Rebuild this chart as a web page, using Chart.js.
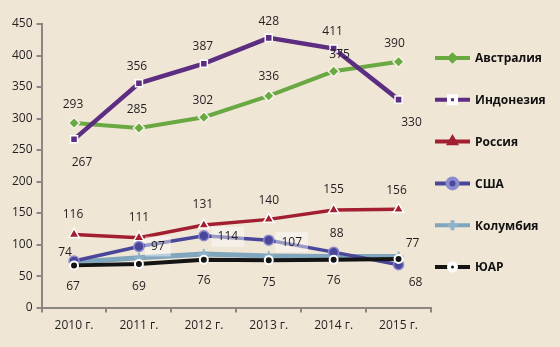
<!DOCTYPE html>
<html>
<head>
<meta charset="utf-8">
<script src="https://cdn.jsdelivr.net/npm/chart.js@4/dist/chart.umd.min.js"></script>
<style>
  body { margin: 0; background: #efe6d6; }
  #myChart { display: block; }
</style>
</head>
<body>
<canvas id="myChart" width="560" height="347"></canvas>
<script>
const years = ["2010 г.", "2011 г.", "2012 г.", "2013 г.", "2014 г.", "2015 г."];
const australia = [293, 285, 302, 336, 375, 390];
const indonesia = [267, 356, 387, 428, 411, 330];
const russia = [116, 111, 131, 140, 155, 156];
const usa = [74, 97, 114, 107, 88, 68];
const colombia = [72, 79, 85, 82, 81, 81];
const southAfrica = [67, 69, 76, 75, 76, 77];
const yMin = 0;
const yMax = 450;
const yStep = 50;

const chart = document.querySelector("#myChart");
const textColor = "#231f20";
const axisColor = "#8c8782";

// label offsets from each point, [dx, dy]
const labelOffsets = {
  "Австралия": [[-1, -18], [-2, -18], [-1, -17], [0, -19], [6, -17], [-4, -18]],
  "Индонезия": [[8, 23], [-2, -17], [-1, -17], [0, -16], [-1, -17], [13, 23]],
  "Россия": [[-1, -20], [0, -20], [-1, -20], [0, -19], [0, -20], [-2, -19]],
  "США": [[-9, -8], [19, 0], [24, 1], [23, 2], [3, -19], [17, 18]],
  "ЮАР": [[-1, 21], [0, 22], [0, 21], [0, 22], [0, 21], [14, -15]],
};
const boxedLabels = { "США": [1, 2, 3] };

const dataLabels = {
  id: "dataLabels",
  afterDatasetsDraw(c) {
    const ctx = c.ctx;
    ctx.save();
    ctx.font = "12px 'Open Sans'";
    ctx.textAlign = "center";
    ctx.textBaseline = "middle";
    c.data.datasets.forEach((ds, i) => {
      const offsets = labelOffsets[ds.label];
      if (!offsets) return;
      const boxed = boxedLabels[ds.label] || [];
      c.getDatasetMeta(i).data.forEach((pt, j) => {
        const x = pt.x + offsets[j][0];
        const y = pt.y + offsets[j][1];
        const text = String(ds.data[j]);
        if (boxed.includes(j)) {
          const w = ctx.measureText(text).width + 12;
          ctx.fillStyle = "rgba(255,255,255,0.45)";
          ctx.fillRect(x - w / 2, y - 10, w, 20);
        }
        ctx.fillStyle = textColor;
        ctx.fillText(text, x, y);
      });
    });
    ctx.restore();
  },
};

const sideLegend = {
  id: "sideLegend",
  afterDraw(c) {
    const ctx = c.ctx;
    const x0 = 435;
    const x1 = 470;
    ctx.save();
    ctx.font = "bold 12px 'Open Sans'";
    ctx.textBaseline = "middle";
    c.data.datasets.forEach((ds, i) => {
      const y = 58 + i * 41.8;
      ctx.strokeStyle = ds.borderColor;
      ctx.lineWidth = 4;
      ctx.beginPath();
      ctx.moveTo(x0, y);
      ctx.lineTo(x1, y);
      ctx.stroke();
      ctx.fillStyle = ds.legendMarkerFill || ds.pointBackgroundColor;
      ctx.strokeStyle = ds.legendMarkerBorder || ds.pointBorderColor;
      Chart.helpers.drawPoint(ctx, {
        pointStyle: ds.pointStyle,
        radius: ds.legendMarkerRadius || 5,
        borderWidth: 1.5,
        rotation: 0,
      }, (x0 + x1) / 2, y);
      ctx.fillStyle = "#111";
      ctx.fillText(ds.label, 475, y + 1);
    });
    ctx.restore();
  },
};

const datasets = [
  {
    label: "Австралия", data: australia, order: 6,
    borderColor: "#6aa942", borderWidth: 4,
    pointStyle: "rectRot", pointRadius: 5.5, pointBorderWidth: 1.5,
    pointBackgroundColor: "#6aa942", pointBorderColor: "#f6f3e8",
    legendMarkerFill: "#ffffff", legendMarkerBorder: "#6aa942", legendMarkerRadius: 3,
  },
  {
    label: "Индонезия", data: indonesia, order: 5,
    borderColor: "#5c2d81", borderWidth: 4.5,
    pointStyle: "rect", pointRadius: 5, pointBorderWidth: 1.5,
    pointBackgroundColor: "#5c2d81", pointBorderColor: "#ffffff",
  },
  {
    label: "Россия", data: russia, order: 3,
    borderColor: "#a21f31", borderWidth: 3.5,
    pointStyle: "triangle", pointRadius: 6, pointBorderWidth: 1.5,
    pointBackgroundColor: "#a21f31", pointBorderColor: "#ffffff",
    legendMarkerFill: "#ffffff", legendMarkerBorder: "#a21f31", legendMarkerRadius: 3.5,
  },
  {
    label: "США", data: usa, order: 2,
    borderColor: "#4a479a", borderWidth: 3.5,
    pointStyle: "circle", pointRadius: 5, pointBorderWidth: 1.5,
    pointBackgroundColor: "#4a479a", pointBorderColor: "#8d8ad0",
  },
  {
    label: "Колумбия", data: colombia, order: 4,
    borderColor: "#7fa6bc", borderWidth: 5,
    pointStyle: "cross", pointRadius: 5, pointBorderWidth: 2,
    pointBackgroundColor: "#7fa6bc", pointBorderColor: "#8fb4c9",
  },
  {
    label: "ЮАР", data: southAfrica, order: 1,
    borderColor: "#141414", borderWidth: 4,
    pointStyle: "circle", pointRadius: 4, pointBorderWidth: 2,
    pointBackgroundColor: "#141414", pointBorderColor: "#ffffff",
    legendMarkerFill: "#141414", legendMarkerBorder: "#ffffff", legendMarkerRadius: 3.5,
  },
];

const config = {
  type: "line",
  data: { labels: years, datasets },
  options: {
    responsive: false,
    animation: false,
    layout: { padding: { top: 24, left: 8, right: 129, bottom: 8 } },
    elements: { line: { tension: 0 } },
    plugins: { legend: { display: false }, tooltip: { enabled: false } },
    scales: {
      x: {
        offset: true,
        grid: { offset: true, drawOnChartArea: false, tickLength: 5, color: axisColor, lineWidth: 2 },
        border: { color: axisColor, width: 2 },
        ticks: { color: textColor, font: { family: "'Open Sans'", size: 12 }, padding: 6 },
      },
      y: {
        min: yMin, max: yMax,
        grid: { drawOnChartArea: false, tickLength: 5, color: axisColor, lineWidth: 2 },
        border: { color: axisColor, width: 2 },
        ticks: { stepSize: yStep, color: textColor, font: { family: "'Open Sans'", size: 12 }, padding: 4 },
      },
    },
  },
  plugins: [dataLabels, sideLegend],
};

const myChart = new Chart(chart, config);
</script>
</body>
</html>
